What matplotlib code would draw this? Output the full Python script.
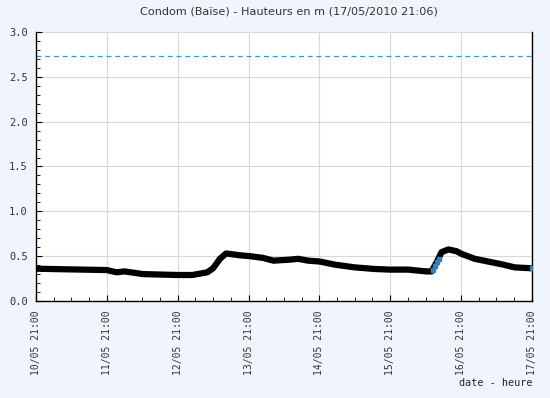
import matplotlib
matplotlib.use('Agg')
import matplotlib.pyplot as plt
import matplotlib.dates as mdates
import pandas as pd
from matplotlib.ticker import MultipleLocator

# hauteurs (heures depuis le 10/05 21:00, m)
heures = [0, 24, 27.3, 30, 36.3, 48, 53, 58, 60, 62.3, 64.4, 69, 72.5, 77, 80.4,
          85.5, 88.9, 92.2, 96.2, 101.3, 108, 114.8, 120, 126.1, 132.3, 134,
          135.7, 137.4, 139.7, 142.5, 144.2, 148.7, 153.2, 157.7, 162.2, 167.9]
hauteurs = [0.36, 0.345, 0.32, 0.33, 0.30, 0.29, 0.29, 0.32, 0.365, 0.47, 0.53,
            0.51, 0.50, 0.48, 0.45, 0.46, 0.47, 0.45, 0.44, 0.405, 0.375, 0.357,
            0.35, 0.35, 0.33, 0.33, 0.43, 0.545, 0.575, 0.555, 0.525, 0.47,
            0.44, 0.41, 0.375, 0.365]
# points en bleu (montée du 16/05)
heures_bleu = [134.6, 135.2, 135.8, 136.4, 167.9]
hauteurs_bleu = [0.35, 0.39, 0.43, 0.47, 0.365]
seuil = 2.73

debut = pd.Timestamp('2010-05-10 21:00')
t = [debut + pd.Timedelta(hours=h) for h in heures]
t_bleu = [debut + pd.Timedelta(hours=h) for h in heures_bleu]
fin = debut + pd.Timedelta(days=7)

fond = '#F0F4FC'
fig = plt.figure(figsize=(5.5, 3.98), dpi=100, facecolor=fond)
ax = fig.add_axes([0.0655, 0.2437, 0.9015, 0.676])
ax.set_facecolor('white')

ax.plot(t, hauteurs, color='black', lw=4.5, solid_capstyle='butt', zorder=3)
ax.plot(t_bleu, hauteurs_bleu, ls='none', marker='s', ms=2.5, color='#3A7FB0', zorder=4)
ax.axhline(seuil, color='#3399CC', lw=0.9, ls=(0, (4, 3)), zorder=2)

ax.set_xlim(debut, fin)
ax.set_ylim(0, 3.0)
ax.xaxis.set_major_locator(mdates.HourLocator(byhour=[21]))
ax.xaxis.set_minor_locator(mdates.HourLocator(byhour=[3, 9, 15]))
ax.xaxis.set_major_formatter(mdates.DateFormatter('%d/%m %H:%M'))
ax.yaxis.set_major_locator(MultipleLocator(0.5))
ax.yaxis.set_minor_locator(MultipleLocator(0.1))
ax.yaxis.set_major_formatter(plt.FuncFormatter(lambda v, p: f'{v:.1f}'))

ax.grid(True, which='major', color='#D8D8D8', lw=0.8, zorder=0)
ax.tick_params(which='both', direction='in', colors='black', labelcolor='#333333',
               top=False, right=False)
ax.tick_params(axis='x', labelsize=7, pad=7)
ax.tick_params(axis='y', labelsize=7.5, pad=6)
ax.tick_params(which='major', length=4)
ax.tick_params(which='minor', length=3)
for lab in ax.get_xticklabels():
    lab.set_rotation(90)
    lab.set_family('DejaVu Sans Mono')
for lab in ax.get_yticklabels():
    lab.set_family('DejaVu Sans Mono')

ax.spines['top'].set_visible(False)
for s in ['left', 'bottom', 'right']:
    ax.spines[s].set_color('black')
    ax.spines[s].set_linewidth(1)

fig.text(0.525, 0.97, 'Condom (Baïse) - Hauteurs en m (17/05/2010 21:06)',
         ha='center', va='center', fontsize=8.1, color='#333333')
fig.text(0.968, 0.038, 'date - heure', ha='right', va='center', fontsize=7.3,
         color='#222222', family='DejaVu Sans Mono')

plt.savefig('out.png', dpi=100, facecolor=fond)
